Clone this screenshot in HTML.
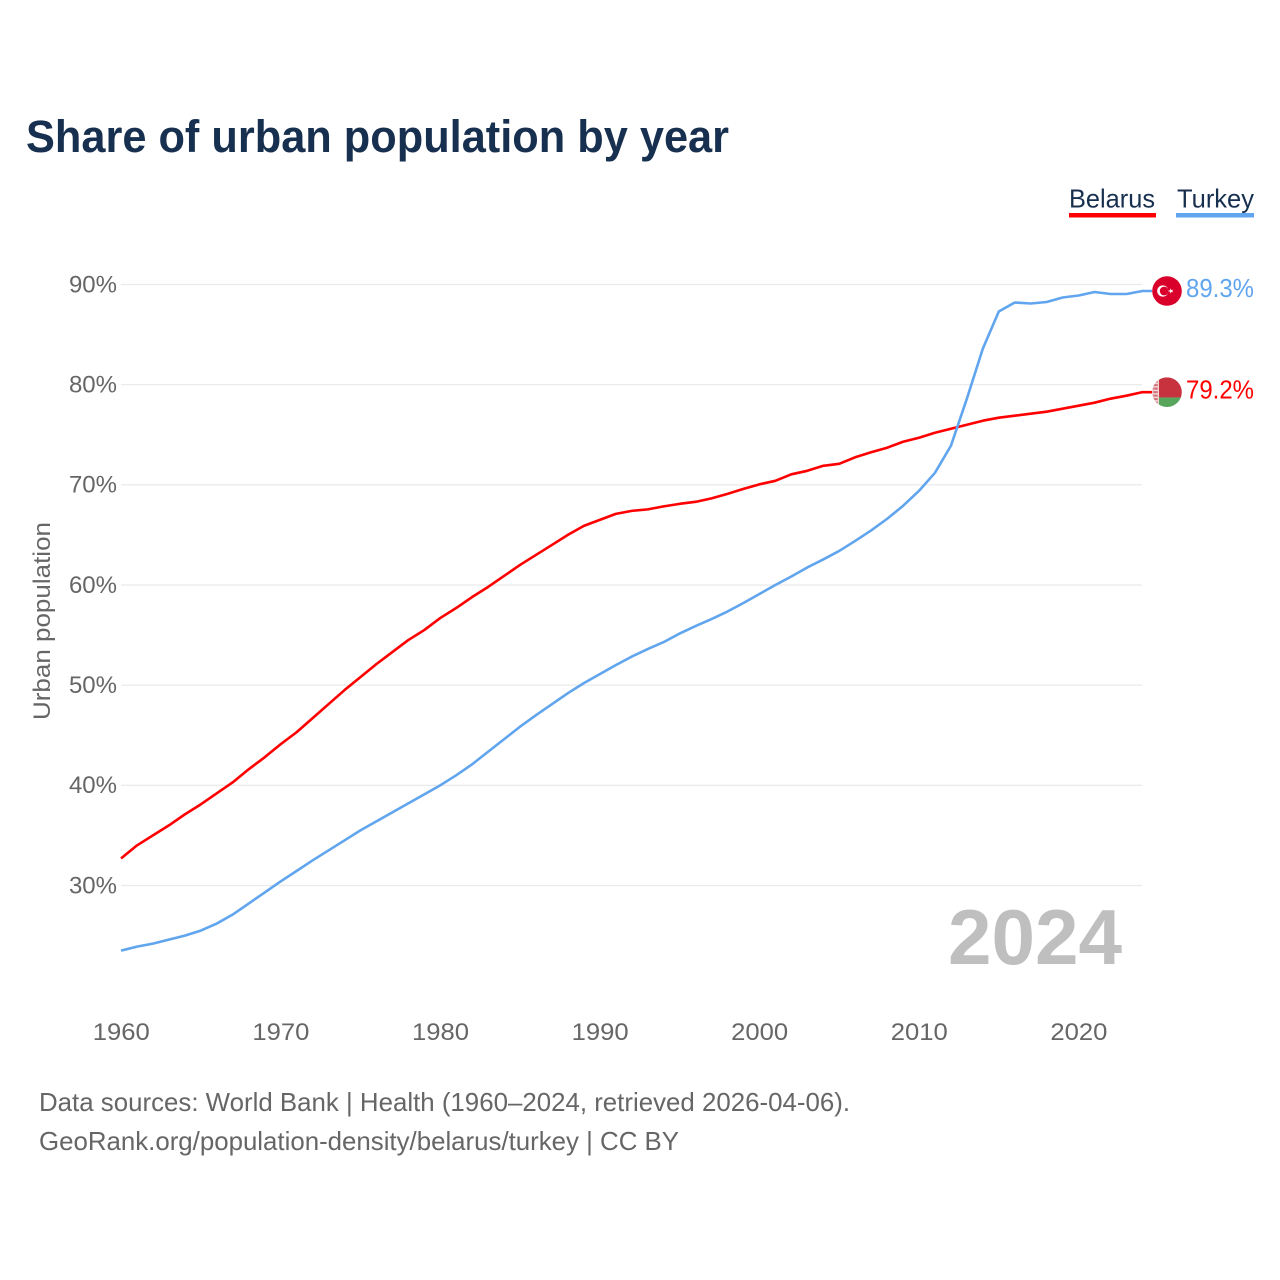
<!DOCTYPE html>
<html lang="en">
<head>
<meta charset="utf-8">
<title>Share of urban population by year</title>
<style>
html,body{margin:0;padding:0;background:#fff;width:1280px;height:1280px;overflow:hidden}
svg{display:block}
text{font-family:"Liberation Sans",sans-serif}
</style>
</head>
<body>
<svg id="chart" width="1280" height="1280" viewBox="0 0 1280 1280" xmlns="http://www.w3.org/2000/svg">
  <defs>
    <clipPath id="flag-clip"><circle cx="0" cy="0" r="14.8"></circle></clipPath>
  </defs>
  <rect width="1280" height="1280" fill="#ffffff"></rect>
  <text x="26" y="152" font-size="45" font-weight="700" fill="#18304f" textLength="703" lengthAdjust="spacingAndGlyphs">Share of urban population by year</text>

  <g>
    <g>
      <text x="1069" y="207.5" font-size="26" fill="#18304f" textLength="86" lengthAdjust="spacingAndGlyphs">Belarus</text>
      <rect x="1069" y="213" width="87" height="4.5" fill="#ff0000"></rect>
    </g>
    <g>
      <text x="1177" y="207.5" font-size="26" fill="#18304f" textLength="77" lengthAdjust="spacingAndGlyphs">Turkey</text>
      <rect x="1176" y="213" width="78" height="4.5" fill="#60a5ee"></rect>
    </g>
  </g>

  <g id="grid"></g>
  <g id="y-axis"></g>
  <g id="x-axis"></g>
  <text transform="translate(50,621) rotate(-90)" text-anchor="middle" font-size="24" fill="#666666" textLength="198" lengthAdjust="spacingAndGlyphs">Urban population</text>

  <text x="948" y="964" font-size="78" font-weight="700" fill="#bfbfbf" textLength="174" lengthAdjust="spacingAndGlyphs">2024</text>

  <g id="series"></g>
  <g id="end-markers"></g>

  <g>
    <text x="39" y="1111" font-size="26" fill="#666666" textLength="811" lengthAdjust="spacingAndGlyphs">Data sources: World Bank | Health (1960–2024, retrieved 2026-04-06).</text>
    <text x="39" y="1150" font-size="26" fill="#666666" textLength="640" lengthAdjust="spacingAndGlyphs">GeoRank.org/population-density/belarus/turkey | CC BY</text>
  </g>
</svg>
<script>
const firstYear = 1960;
const belarusValues = [
  32.7,34.0,35.0,36.0,37.1,38.1,39.2,40.3,41.6,42.8,
  44.1,45.3,46.7,48.1,49.5,50.8,52.1,53.3,54.5,55.5,
  56.7,57.7,58.8,59.8,60.9,62.0,63.0,64.0,65.0,65.9,
  66.5,67.1,67.4,67.55,67.85,68.1,68.3,68.65,69.1,69.6,
  70.05,70.4,71.05,71.4,71.9,72.1,72.75,73.25,73.7,74.3,
  74.7,75.2,75.6,76.0,76.4,76.7,76.9,77.1,77.3,77.6,
  77.9,78.2,78.6,78.9,79.25
];
const turkeyValues = [
  23.5,23.9,24.2,24.6,25.0,25.5,26.2,27.1,28.2,29.3,
  30.4,31.45,32.5,33.5,34.5,35.5,36.4,37.3,38.2,39.1,
  40.0,41.0,42.1,43.35,44.6,45.85,47.0,48.1,49.2,50.2,
  51.1,52.0,52.85,53.6,54.3,55.15,55.9,56.6,57.35,58.2,
  59.1,60.0,60.85,61.75,62.55,63.4,64.4,65.45,66.6,67.9,
  69.4,71.2,73.9,78.6,83.6,87.3,88.2,88.1,88.25,88.7,
  88.9,89.25,89.05,89.05,89.35
];
const yTickValues = [30,40,50,60,70,80,90];
const xTickYears = [1960,1970,1980,1990,2000,2010,2020];
const belarusLabel = "79.2%";
const turkeyLabel = "89.3%";

const NS = "http://www.w3.org/2000/svg";
function xScale(year){ return 121 + (year - 1960) * 15.96; }
function yScale(v){ return 885.5 - (v - 30) * 10.017; }
function make(tag, attrs, parent){
  const el = document.createElementNS(NS, tag);
  for (const k in attrs) el.setAttribute(k, attrs[k]);
  parent.appendChild(el);
  return el;
}

const gridGroup = document.getElementById("grid");
const yAxisGroup = document.getElementById("y-axis");
const xAxisGroup = document.getElementById("x-axis");
const seriesGroup = document.getElementById("series");
const markerGroup = document.getElementById("end-markers");

yTickValues.forEach(function(v){
  const y = yScale(v);
  const line = make("line", {x1:121, x2:1142, y1:y, y2:y, stroke:"#ebebeb", "stroke-width":1.3}, gridGroup);
  
  
  const t = make("text", {x:117, y:y+7.8, "text-anchor":"end", "font-size":24, fill:"#666666"}, yAxisGroup);
  
  
  t.textContent = v + "%";
});

xTickYears.forEach(function(yr){
  const t = make("text", {x:xScale(yr) + 0.3, y:1040, "text-anchor":"middle", "font-size":24, fill:"#666666", textLength:57, lengthAdjust:"spacingAndGlyphs"}, xAxisGroup);
  
  
  t.textContent = yr;
});

function linePath(values){
  const pts = values.map(function(v, i){ return xScale(firstYear + i).toFixed(2) + "," + yScale(v).toFixed(2); });
  const last = values[values.length - 1];
  pts.push("1152," + yScale(last).toFixed(2));
  return "M" + pts.join("L");
}

const belarusLine = make("path", {d:linePath(belarusValues), fill:"none", stroke:"#ff0000", "stroke-width":2.6, "stroke-linejoin":"round"}, seriesGroup);


const turkeyLine = make("path", {d:linePath(turkeyValues), fill:"none", stroke:"#60a5ee", "stroke-width":2.6, "stroke-linejoin":"round"}, seriesGroup);



/* Turkey end marker */
const turkeyEndY = yScale(turkeyValues[turkeyValues.length - 1]);
const turkeyFlag = make("g", {transform:"translate(1167," + turkeyEndY.toFixed(2) + ")", "clip-path":"url(#flag-clip)"}, markerGroup);


make("rect", {x:-15, y:-15, width:30, height:30, fill:"#d9002b"}, turkeyFlag);
make("circle", {cx:-4.2, cy:0, r:5.6, fill:"#ffffff"}, turkeyFlag);
make("circle", {cx:-2.8, cy:0, r:4.4, fill:"#d9002b"}, turkeyFlag);
make("polygon", {points:"0.5,0 3.2,-0.8 3.2,-2.8 4.4,-0.9 6.4,-1.4 5.1,0 6.4,1.4 4.4,0.9 3.2,2.8 3.2,0.8", fill:"#ffffff"}, turkeyFlag);
const turkeyValueText = make("text", {x:1254, y:turkeyEndY + 5.8, "text-anchor":"end", "font-size":26, fill:"#60a5ee", textLength:68, lengthAdjust:"spacingAndGlyphs"}, markerGroup);


turkeyValueText.textContent = turkeyLabel;

/* Belarus end marker */
const belarusEndY = yScale(belarusValues[belarusValues.length - 1]);
const belarusFlag = make("g", {transform:"translate(1167," + belarusEndY.toFixed(2) + ")", "clip-path":"url(#flag-clip)"}, markerGroup);


make("rect", {x:-15, y:-15, width:30, height:20.3, fill:"#c8313e"}, belarusFlag);
make("rect", {x:-15, y:5.3, width:30, height:9.7, fill:"#58a65c"}, belarusFlag);
make("rect", {x:-15, y:-15, width:7, height:30, fill:"#f2d5d7"}, belarusFlag);
make("line", {x1:-11.5, x2:-11.5, y1:-15, y2:15, stroke:"#d2707a", "stroke-width":4.5, "stroke-dasharray":"2 1.5"}, belarusFlag);
const belarusValueText = make("text", {x:1254, y:belarusEndY + 6.3, "text-anchor":"end", "font-size":26, fill:"#ff0000", textLength:68, lengthAdjust:"spacingAndGlyphs"}, markerGroup);


belarusValueText.textContent = belarusLabel;
</script>
</body>
</html>
